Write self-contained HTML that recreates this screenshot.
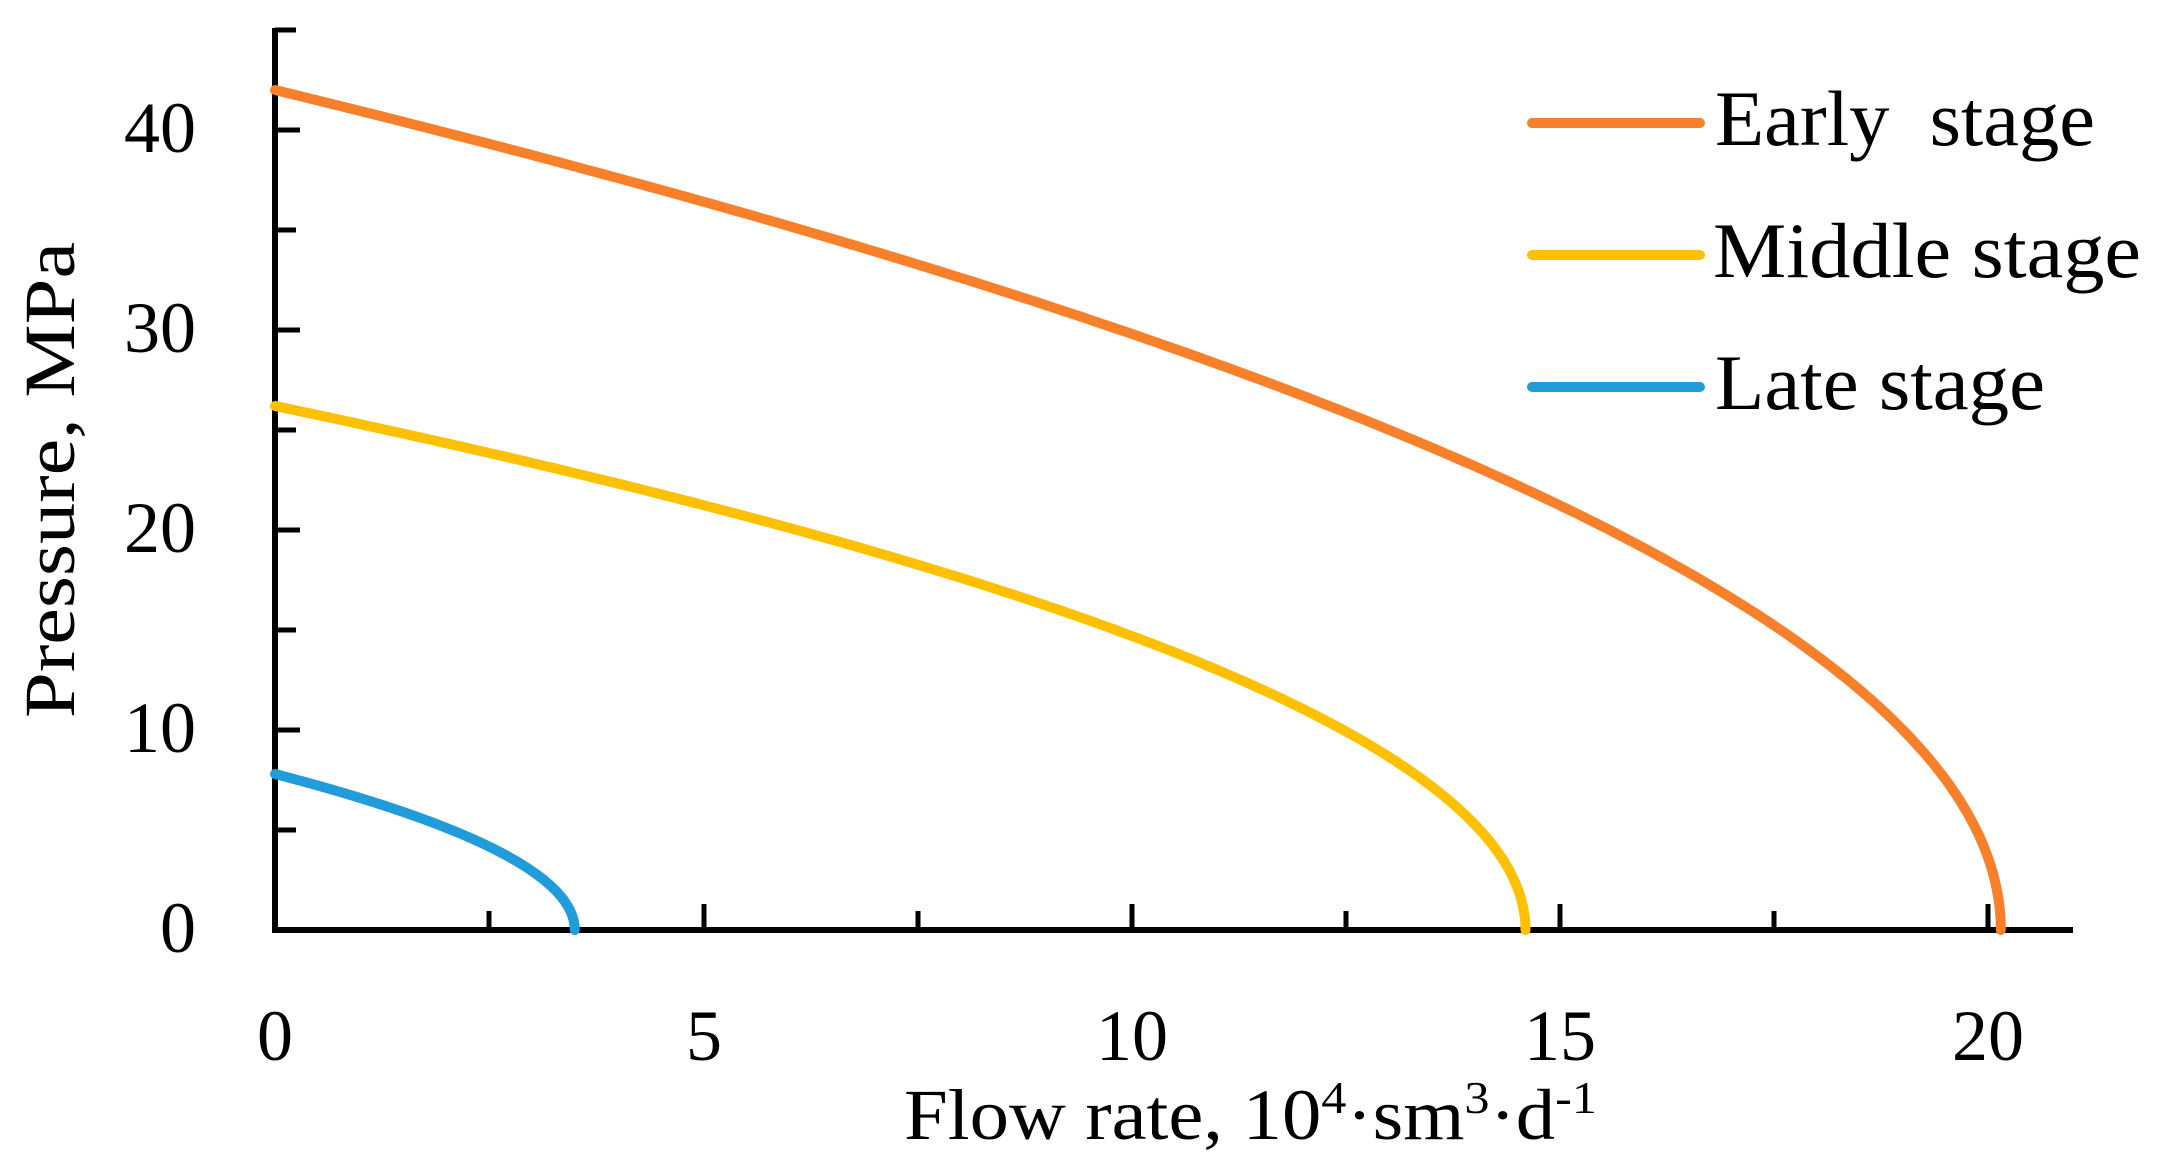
<!DOCTYPE html>
<html><head><meta charset="utf-8"><style>
html,body{margin:0;padding:0;background:#fff;}
svg{display:block;}
text{font-family:"Liberation Serif",serif;fill:#000;}
</style></head><body>
<svg id="s" width="2159" height="1167" viewBox="0 0 2159 1167" xmlns="http://www.w3.org/2000/svg">
<g stroke="#000" stroke-width="6" fill="none">
<line x1="275" y1="28" x2="275" y2="933"/>
<line x1="273" y1="930" x2="2073" y2="930"/>
</g>
<g stroke="#000" stroke-width="5" fill="none">
<line x1="275" y1="30" x2="296" y2="30"/>
<line x1="275" y1="130" x2="300" y2="130"/>
<line x1="275" y1="230" x2="296" y2="230"/>
<line x1="275" y1="330" x2="300" y2="330"/>
<line x1="275" y1="430" x2="296" y2="430"/>
<line x1="275" y1="530" x2="300" y2="530"/>
<line x1="275" y1="630" x2="296" y2="630"/>
<line x1="275" y1="730" x2="300" y2="730"/>
<line x1="275" y1="830" x2="296" y2="830"/>
<line x1="489" y1="930" x2="489" y2="911"/>
<line x1="704" y1="930" x2="704" y2="904"/>
<line x1="918" y1="930" x2="918" y2="911"/>
<line x1="1132" y1="930" x2="1132" y2="904"/>
<line x1="1346" y1="930" x2="1346" y2="911"/>
<line x1="1560" y1="930" x2="1560" y2="904"/>
<line x1="1774" y1="930" x2="1774" y2="911"/>
<line x1="1988" y1="930" x2="1988" y2="904"/>
</g>
<g font-size="72" text-anchor="end">
<text x="196" y="152">40</text>
<text x="196" y="352">30</text>
<text x="196" y="552">20</text>
<text x="196" y="752">10</text>
<text x="196" y="952">0</text>
</g>
<g font-size="72" text-anchor="middle">
<text x="275" y="1060">0</text>
<text x="704" y="1060">5</text>
<text x="1132" y="1060">10</text>
<text x="1560" y="1060">15</text>
<text x="1988" y="1060">20</text>
</g>
<text x="904" y="1139" font-size="72" textLength="693" lengthAdjust="spacingAndGlyphs">Flow rate, 10<tspan font-size="46" dy="-26">4</tspan><tspan dy="26">·sm</tspan><tspan font-size="46" dy="-26">3</tspan><tspan dy="26">·d</tspan><tspan font-size="46" dy="-26">-1</tspan></text>
<text transform="translate(74,480) rotate(-90)" font-size="72" text-anchor="middle" textLength="476" lengthAdjust="spacingAndGlyphs">Pressure, MPa</text>
<g id="curves" fill="none" stroke-width="10" stroke-linecap="round"></g>
<g stroke-width="10" stroke-linecap="round">
<line x1="1532" y1="123" x2="1700" y2="123" stroke="#F8802A"/>
<line x1="1532" y1="255" x2="1700" y2="255" stroke="#FFC000"/>
<line x1="1532" y1="387" x2="1700" y2="387" stroke="#1F9CD9"/>
</g>
<g font-size="78">
<text x="1715" y="145" textLength="380" lengthAdjust="spacingAndGlyphs" xml:space="preserve" style="white-space:pre">Early  stage</text>
<text x="1713" y="277" textLength="428" lengthAdjust="spacingAndGlyphs">Middle stage</text>
<text x="1715" y="409" textLength="330" lengthAdjust="spacingAndGlyphs">Late stage</text>
</g>
</svg>
<script>
var g=document.getElementById('curves');
function c(P0,qm,col){var d='';var N=300;for(var i=0;i<=N;i++){var t=i/N;var q=qm*(1-Math.pow(1-t,1.6));var P=P0*Math.sqrt(Math.max(0,1-q/qm));var x=275+q*85.65,y=930-P*20;d+=(i?'L':'M')+x.toFixed(1)+' '+y.toFixed(1);}
var p=document.createElementNS('http://www.w3.org/2000/svg','path');p.setAttribute('d',d);p.setAttribute('stroke',col);g.appendChild(p);}
c(42,20.15,'#F8802A');c(26.2,14.6,'#FFC000');c(7.8,3.5,'#1F9CD9');
</script>
</body></html>
